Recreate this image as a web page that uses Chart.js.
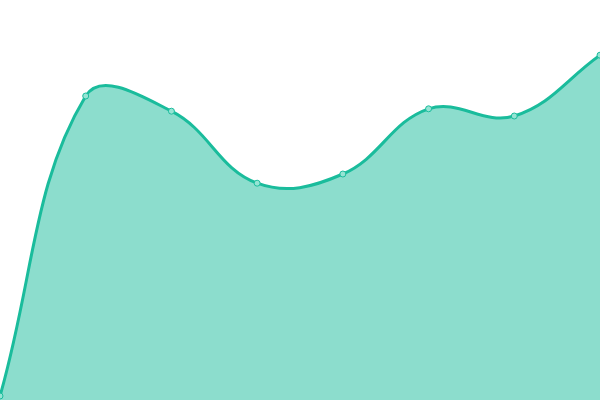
<!DOCTYPE html>
<html>
<head>
<meta charset="utf-8">
<script src="https://cdn.jsdelivr.net/npm/chart.js@4"></script>
<style>
html,body{margin:0;padding:0;background:#fff;}
#wrap{width:600px;height:400px;}
</style>
</head>
<body>
<div id="wrap"><canvas id="c" width="600" height="400"></canvas></div>
<script>
const categories = ["A","B","C","D","E","F","G","H"];
const values = [1, 76, 72.2, 54.2, 56.5, 72.8, 71, 86.2];
const yMin = 0, yMax = 100;

new Chart(document.getElementById('c'), {
  type: 'line',
  data: {
    labels: categories,
    datasets: [{
      data: values,
      borderColor: '#1abc9c',
      backgroundColor: 'rgba(26,188,156,0.5)',
      pointBackgroundColor: '#96e4d4',
      pointBorderColor: '#1abc9c',
      pointRadius: 3,
      pointBorderWidth: 1,
      borderWidth: 3,
      tension: 0.4,
      fill: 'origin'
    }]
  },
  options: {
    responsive: false,
    animation: false,
    layout: { padding: 0, autoPadding: false },
    plugins: { legend: { display: false }, tooltip: { enabled: false } },
    scales: {
      x: { display: false, offset: false },
      y: { display: false, min: yMin, max: yMax }
    }
  }
});
</script>
</body>
</html>
